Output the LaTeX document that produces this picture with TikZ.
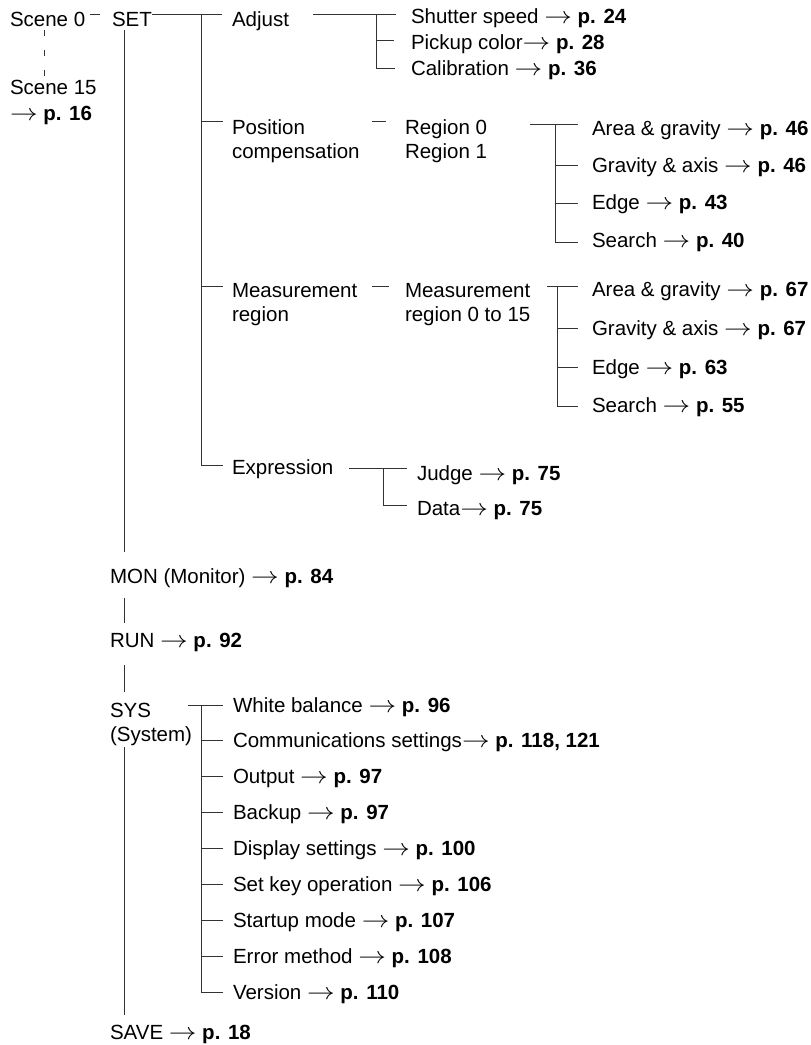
\RequirePackage{fix-cm}
\documentclass[tikz,border=0pt]{standalone}
\usepackage{graphicx}
\usepackage{fontspec}
\setmainfont{Liberation Sans}
\usetikzlibrary{calc}
\newcommand{\twoline}[3][0pt]{\begin{tabular}[t]{@{}l@{}}#2\\[#1]#3\end{tabular}}
\newcommand{\rarr}{\scalebox{1.35}[1.15]{$\rightarrow$}}
\newcommand{\pg}[1]{\rarr\ \textbf{p. #1}}
\begin{document}
\begin{tikzpicture}[x=1pt,y=-1pt]
\tikzset{
  lbl/.style={anchor=base west, inner sep=0pt, outer sep=0pt, font=\fontsize{20.5}{24}\selectfont},
  ln/.style={line width=0.9pt, draw=black!80},
  dashln/.style={ln, dash pattern=on 6pt off 14pt}
}
\useasboundingbox (0,0) rectangle (811,1045);

% ---------- nodes ----------
\node[lbl] (scene0) at (10,26) {Scene 0};
\node[lbl] (scene15) at (10,94) {\twoline[2pt]{Scene 15}{\pg{16}}};
\node[lbl] (set) at (112,26) {SET};
\node[lbl] (adjust) at (232,26) {Adjust};
\node[lbl] (shutter) at (411,23) {Shutter speed \pg{24}};
\node[lbl] (pickup) at (411,49) {Pickup color\pg{28}};
\node[lbl] (calib) at (411,75) {Calibration \pg{36}};
\node[lbl] (poscomp) at (232,134) {\twoline{Position}{compensation}};
\node[lbl] (region) at (405,134) {\twoline{Region 0}{Region 1}};
\node[lbl] (ag46) at (592,135) {Area \& gravity \pg{46}};
\node[lbl] (ga46) at (592,172) {Gravity \& axis \pg{46}};
\node[lbl] (edge43) at (592,209.5) {Edge \pg{43}};
\node[lbl] (search40) at (592,247) {Search \pg{40}};
\node[lbl] (meas) at (232,297) {\twoline{Measurement}{region}};
\node[lbl] (measreg) at (405,297) {\twoline{Measurement}{region 0 to 15}};
\node[lbl] (ag67) at (592,296) {Area \& gravity \pg{67}};
\node[lbl] (ga67) at (592,335) {Gravity \& axis \pg{67}};
\node[lbl] (edge63) at (592,374) {Edge \pg{63}};
\node[lbl] (search55) at (592,412) {Search \pg{55}};
\node[lbl] (expr) at (232,474) {Expression};
\node[lbl] (judge) at (417,480) {Judge \pg{75}};
\node[lbl] (data) at (417,515) {Data\pg{75}};
\node[lbl] (mon) at (110,583) {MON (Monitor) \pg{84}};
\node[lbl] (run) at (110,647) {RUN \pg{92}};
\node[lbl] (sys) at (110,717) {\twoline{SYS}{(System)}};
\node[lbl] (white) at (233,712) {White balance \pg{96}};
\node[lbl] (comm) at (233,747.9) {Communications settings\pg{118, 121}};
\node[lbl] (output) at (233,783.8) {Output \pg{97}};
\node[lbl] (backup) at (233,819.7) {Backup \pg{97}};
\node[lbl] (display) at (233,855.6) {Display settings \pg{100}};
\node[lbl] (setkey) at (233,891.5) {Set key operation \pg{106}};
\node[lbl] (startup) at (233,927.4) {Startup mode \pg{107}};
\node[lbl] (error) at (233,963.3) {Error method \pg{108}};
\node[lbl] (version) at (233,999.2) {Version \pg{110}};
\node[lbl] (save) at (110,1039) {SAVE \pg{18}};

% ---------- coordinates ----------
\coordinate (sdTop) at (44,30);
\coordinate (sdBot) at (44,76);
\coordinate (s0a) at (90,14);
\coordinate (s0b) at (100,14);
\coordinate (m1) at (124,30);
\coordinate (m2) at (124,552);
\coordinate (m3) at (124,598);
\coordinate (m4) at (124,623);
\coordinate (m5) at (124,665);
\coordinate (m6) at (124,692);
\coordinate (m7) at (124,747);
\coordinate (m8) at (124,1015);
\coordinate (setA) at (152,14);
\coordinate (setB) at (222,14);
\coordinate (sb1) at (201,14);
\coordinate (sb2) at (201,121);
\coordinate (sb3) at (201,286);
\coordinate (sb4) at (201,465);
\coordinate (se2) at (223,121);
\coordinate (se3) at (223,286);
\coordinate (se4) at (223,465);
\coordinate (adA) at (313,14);
\coordinate (adB) at (396,14);
\coordinate (ad1) at (376,14);
\coordinate (ad2) at (376,40);
\coordinate (ad3) at (376,68);
\coordinate (ade2) at (394,40);
\coordinate (ade3) at (395,68);
\coordinate (prA) at (372,121);
\coordinate (prB) at (386,121);
\coordinate (rgA) at (530,124);
\coordinate (rgB) at (578,124);
\coordinate (rg1) at (555,124);
\coordinate (rg2) at (555,165);
\coordinate (rg3) at (555,203);
\coordinate (rg4) at (555,242);
\coordinate (rge2) at (578,165);
\coordinate (rge3) at (578,203);
\coordinate (rge4) at (578,242);
\coordinate (mrA) at (372,286);
\coordinate (mrB) at (389,286);
\coordinate (mgA) at (547,286);
\coordinate (mgB) at (578,286);
\coordinate (mg1) at (557,286);
\coordinate (mg2) at (557,328);
\coordinate (mg3) at (557,367);
\coordinate (mg4) at (557,406);
\coordinate (mge2) at (578,328);
\coordinate (mge3) at (578,367);
\coordinate (mge4) at (578,406);
\coordinate (exA) at (349,468);
\coordinate (exB) at (407,468);
\coordinate (ex1) at (383,468);
\coordinate (ex2) at (383,505);
\coordinate (exe2) at (407,505);
\coordinate (syA) at (188,705);
\coordinate (syB) at (223,705);
\coordinate (sy1) at (201,705);
\coordinate (sy9) at (201,992);

% ---------- connectors ----------
\draw[dashln] (sdTop) -- (sdBot);
\draw[ln] (s0a) -- (s0b);
\draw[ln] (m1) -- (m2);
\draw[ln] (m3) -- (m4);
\draw[ln] (m5) -- (m6);
\draw[ln] (m7) -- (m8);
\draw[ln] (setA) -- (setB);
\draw[ln] (sb1) -- (sb4) -- (se4);
\draw[ln] (sb2) -- (se2);
\draw[ln] (sb3) -- (se3);
\draw[ln] (adA) -- (adB);
\draw[ln] (ad1) -- (ad3) -- (ade3);
\draw[ln] (ad2) -- (ade2);
\draw[ln] (prA) -- (prB);
\draw[ln] (rgA) -- (rgB);
\draw[ln] (rg1) -- (rg4) -- (rge4);
\draw[ln] (rg2) -- (rge2);
\draw[ln] (rg3) -- (rge3);
\draw[ln] (mrA) -- (mrB);
\draw[ln] (mgA) -- (mgB);
\draw[ln] (mg1) -- (mg4) -- (mge4);
\draw[ln] (mg2) -- (mge2);
\draw[ln] (mg3) -- (mge3);
\draw[ln] (exA) -- (exB);
\draw[ln] (ex1) -- (ex2) -- (exe2);
\draw[ln] (syA) -- (syB);
\draw[ln] (sy1) -- (sy9);
\foreach \n in {comm,output,backup,display,setkey,startup,error,version}{
  \draw[ln] (sy1 |- {$(\n.base west)+(0,-7)$}) -- ($(\n.base west)+(-10,-7)$);
}
\end{tikzpicture}
\end{document}
